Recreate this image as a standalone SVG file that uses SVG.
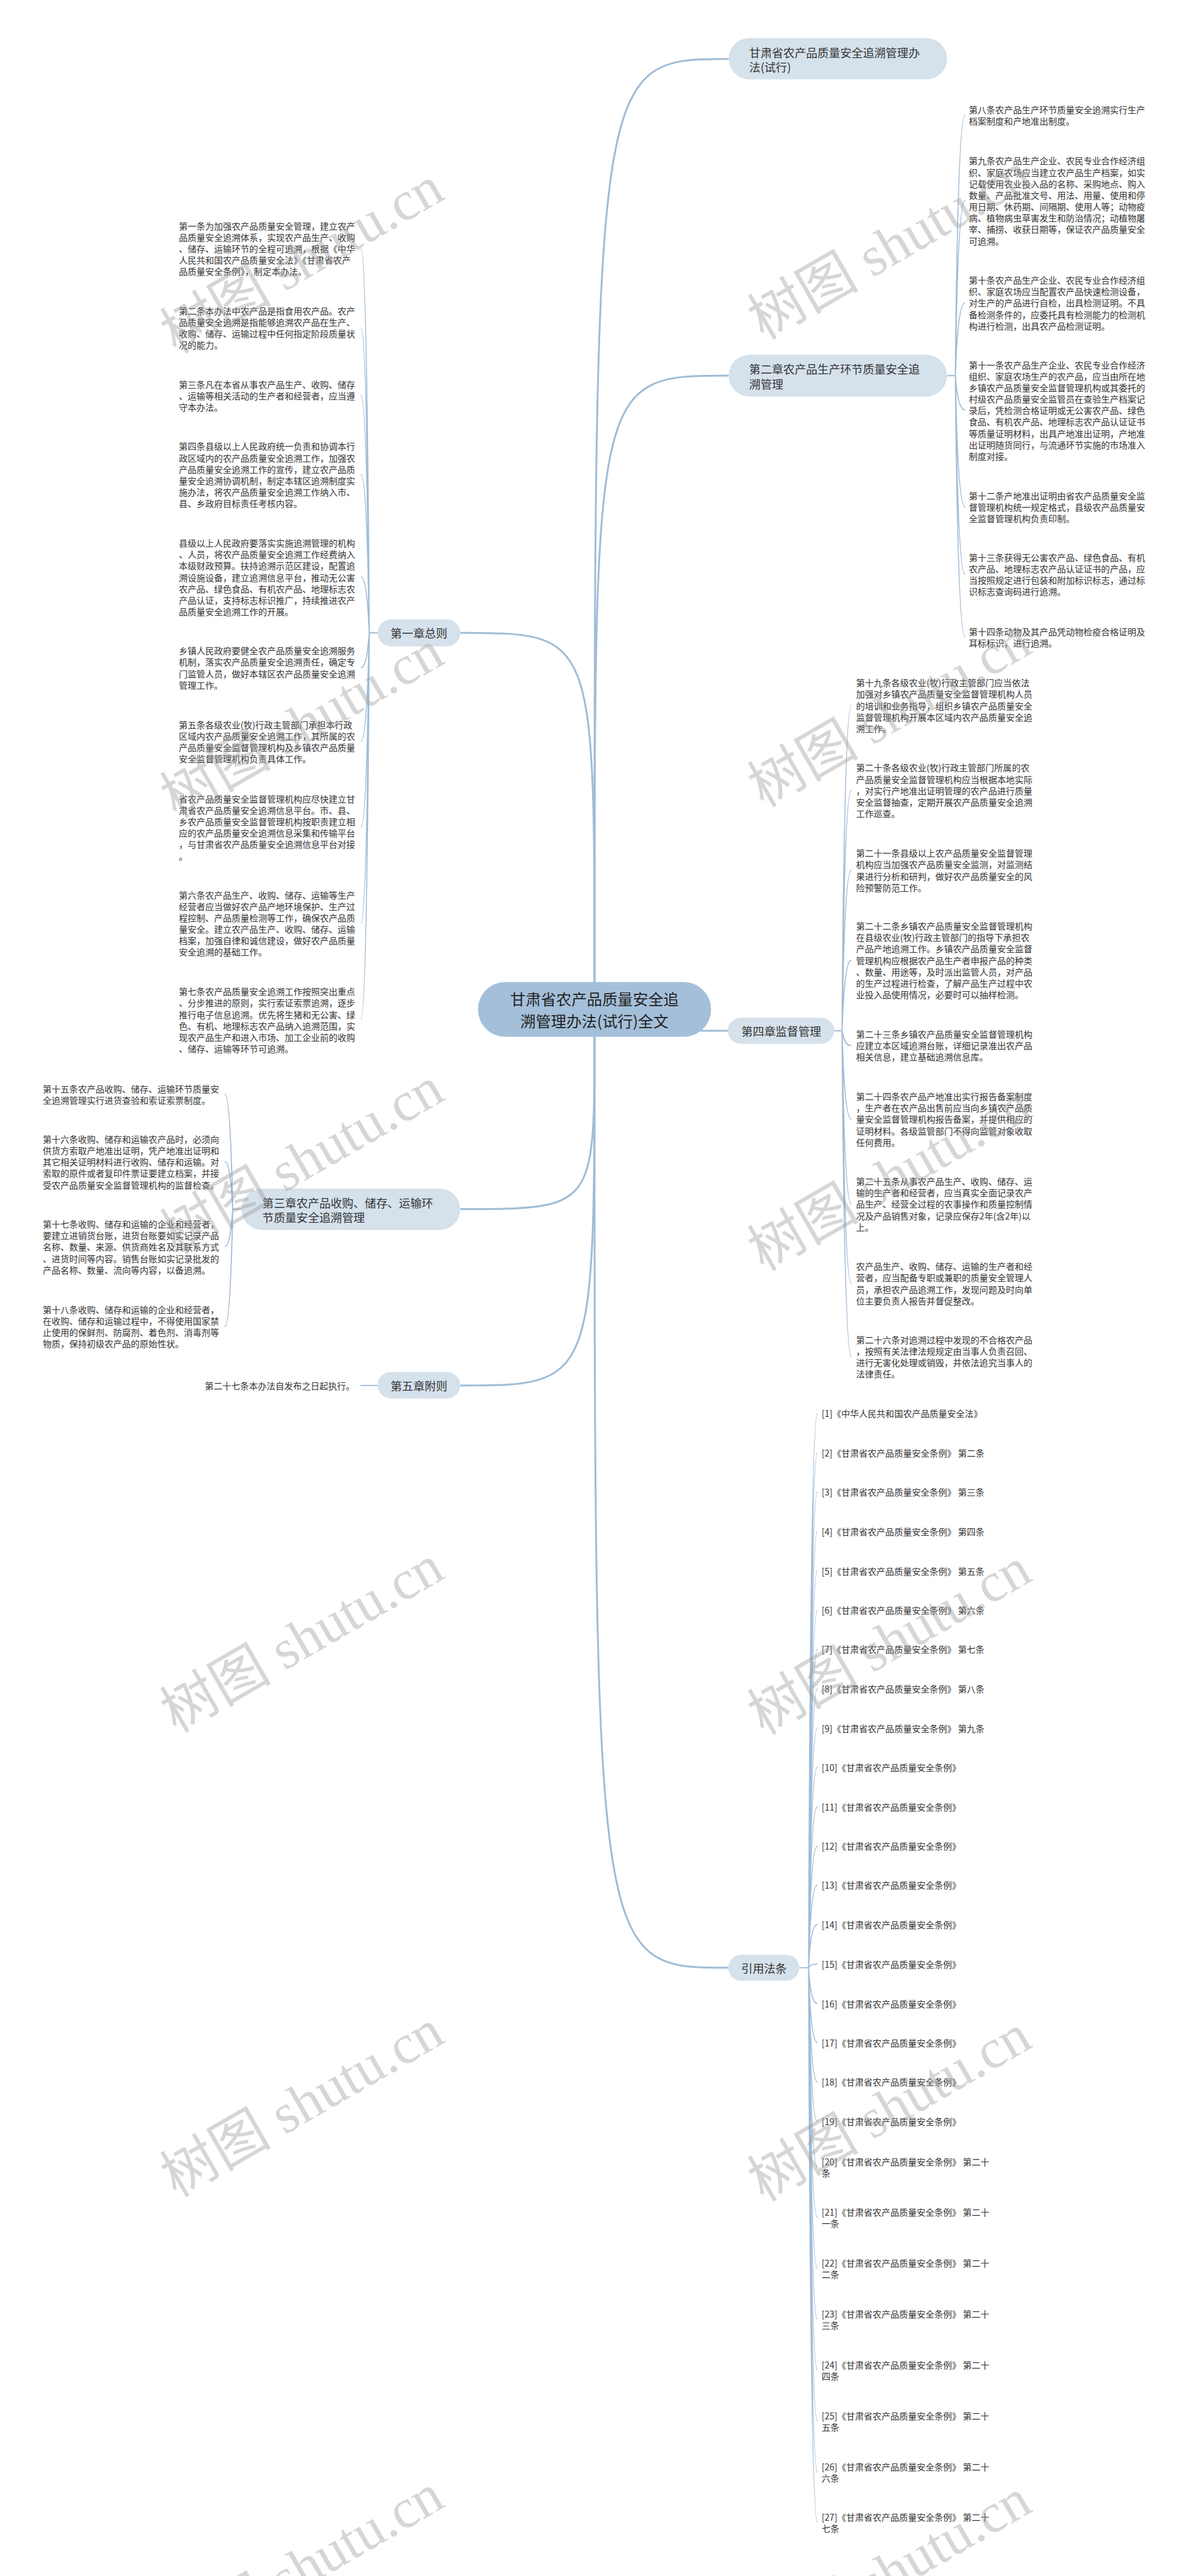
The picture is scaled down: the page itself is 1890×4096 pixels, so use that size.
<svg xmlns="http://www.w3.org/2000/svg" width="1890" height="4096" viewBox="0 0 1890 4096">
<style>
text{font-family:"Noto Sans CJK SC","Noto Sans",sans-serif;dominant-baseline:central}
.lf{font-size:19px;fill:#333}
.ch{font-size:24.5px;fill:#333}
.ct{font-size:33px;fill:#222}
.cn{fill:#d5e1eb}
.cm{fill:#a4bfd9}
.lk{fill:none;stroke:#a0bcd6;stroke-width:2.5}
.mn{fill:none;stroke:#a0bcd6;stroke-width:4}
.wm{font-family:"Liberation Serif","Noto Sans CJK SC",serif;font-size:120px;fill:#9a9a9a;opacity:.4;text-anchor:middle}
</style>
<rect width="1890" height="4096" fill="#fff"/>
<g transform="scale(0.73828125)">
<g id="connectors">
<path class="mn" d="M1280 2115 C1280 127 1280 127 1569 127"/>
<path class="mn" d="M1280 2115 C1280 809 1280 809 1569 809"/>
<path class="mn" d="M1280 2115 C1280 1363 1280 1363 991 1363"/>
<path class="mn" d="M1508 2220 H1567"/>
<path class="mn" d="M1280 2233 C1280 2604 1280 2604 991 2604"/>
<path class="mn" d="M1280 2233 C1280 2984 1280 2984 991 2984"/>
<path class="mn" d="M1280 2233 C1280 4238 1280 4238 1568 4238"/>
<path class="lk" d="M2039 809 H2057 Q2062 248 2078 248 M2057 809 Q2062 432 2078 432 M2057 809 Q2062 652 2078 652 M2057 809 Q2062 883 2078 883 M2057 809 Q2062 1092 2078 1092 M2057 809 Q2062 1237 2078 1237 M2057 809 Q2062 1372 2078 1372"/>
<path class="lk" d="M813 1363 H795 Q790 535 777 535 M795 1363 Q790 706 777 706 M795 1363 Q790 852 777 852 M795 1363 Q790 1022 777 1022 M795 1363 Q790 1243 777 1243 M795 1363 Q790 1438 777 1438 M795 1363 Q790 1597 777 1597 M795 1363 Q790 1781 777 1781 M795 1363 Q790 1988 777 1988 M795 1363 Q790 2196 777 2196"/>
<path class="lk" d="M520 2604 H501 Q496 2356 484 2356 M501 2604 Q496 2502 484 2502 M501 2604 Q496 2685 484 2685 M501 2604 Q496 2857 484 2857"/>
<path class="lk" d="M813 2984 H776"/>
<path class="lk" d="M1796 2220 H1813 Q1818 1519 1833 1519 M1813 2220 Q1818 1702 1833 1702 M1813 2220 Q1818 1874 1833 1874 M1813 2220 Q1818 2068 1833 2068 M1813 2220 Q1818 2252 1833 2252 M1813 2220 Q1818 2410 1833 2410 M1813 2220 Q1818 2593 1833 2593 M1813 2220 Q1818 2764 1833 2764 M1813 2220 Q1818 2922 1833 2922"/>
<path class="lk" d="M1721 4238 H1741 Q1745 3044 1760 3044 M1741 4238 Q1745 3129 1760 3129 M1741 4238 Q1745 3213 1760 3213 M1741 4238 Q1745 3298 1760 3298 M1741 4238 Q1745 3383 1760 3383 M1741 4238 Q1745 3468 1760 3468 M1741 4238 Q1745 3552 1760 3552 M1741 4238 Q1745 3637 1760 3637 M1741 4238 Q1745 3722 1760 3722 M1741 4238 Q1745 3806 1760 3806 M1741 4238 Q1745 3891 1760 3891 M1741 4238 Q1745 3976 1760 3976 M1741 4238 Q1745 4060 1760 4060 M1741 4238 Q1745 4145 1760 4145 M1741 4238 Q1745 4230 1760 4230 M1741 4238 Q1745 4315 1760 4315 M1741 4238 Q1745 4399 1760 4399 M1741 4238 Q1745 4484 1760 4484 M1741 4238 Q1745 4569 1760 4569 M1741 4238 Q1745 4667 1760 4667 M1741 4238 Q1745 4776 1760 4776 M1741 4238 Q1745 4886 1760 4886 M1741 4238 Q1745 4995 1760 4995 M1741 4238 Q1745 5105 1760 5105 M1741 4238 Q1745 5214 1760 5214 M1741 4238 Q1745 5324 1760 5324 M1741 4238 Q1745 5433 1760 5433"/>
</g>

<g id="center">
<rect class="cm" x="1029" y="2115" width="502" height="118" rx="59"/>
<text class="ct" text-anchor="middle"><tspan x="1280" y="2150">甘肃省农产品质量安全追</tspan><tspan x="1280" y="2197">溯管理办法(试行)全文</tspan></text>
</g>

<g id="node-title">
<rect class="cn" x="1569" y="82" width="470" height="89" rx="44.5"/>
<text class="ch"><tspan x="1613" y="112">甘肃省农产品质量安全追溯管理办</tspan><tspan x="1613" y="144">法(试行)</tspan></text>
</g>

<g id="node-ch2">
<rect class="cn" x="1569" y="764" width="470" height="90" rx="45"/>
<text class="ch"><tspan x="1613" y="794">第二章农产品生产环节质量安全追</tspan><tspan x="1613" y="826">溯管理</tspan></text>
</g>
<g id="ch2-leaves">
<text class="lf"><tspan x="2086" y="236">第八条农产品生产环节质量安全追溯实行生产</tspan><tspan x="2086" dy="24.6">档案制度和产地准出制度。</tspan></text>
<text class="lf"><tspan x="2086" y="346">第九条农产品生产企业、农民专业合作经济组</tspan><tspan x="2086" dy="24.6">织、家庭农场应当建立农产品生产档案，如实</tspan><tspan x="2086" dy="24.6">记载使用农业投入品的名称、采购地点、购入</tspan><tspan x="2086" dy="24.6">数量、产品批准文号、用法、用量、使用和停</tspan><tspan x="2086" dy="24.6">用日期、休药期、间隔期、使用人等；动物疫</tspan><tspan x="2086" dy="24.6">病、植物病虫草害发生和防治情况；动植物屠</tspan><tspan x="2086" dy="24.6">宰、捕捞、收获日期等，保证农产品质量安全</tspan><tspan x="2086" dy="24.6">可追溯。</tspan></text>
<text class="lf"><tspan x="2086" y="603">第十条农产品生产企业、农民专业合作经济组</tspan><tspan x="2086" dy="24.6">织、家庭农场应当配置农产品快速检测设备，</tspan><tspan x="2086" dy="24.6">对生产的产品进行自检，出具检测证明。不具</tspan><tspan x="2086" dy="24.6">备检测条件的，应委托具有检测能力的检测机</tspan><tspan x="2086" dy="24.6">构进行检测，出具农产品检测证明。</tspan></text>
<text class="lf"><tspan x="2086" y="785">第十一条农产品生产企业、农民专业合作经济</tspan><tspan x="2086" dy="24.6">组织、家庭农场生产的农产品，应当由所在地</tspan><tspan x="2086" dy="24.6">乡镇农产品质量安全监督管理机构或其委托的</tspan><tspan x="2086" dy="24.6">村级农产品质量安全监管员在查验生产档案记</tspan><tspan x="2086" dy="24.6">录后，凭检测合格证明或无公害农产品、绿色</tspan><tspan x="2086" dy="24.6">食品、有机农产品、地理标志农产品认证证书</tspan><tspan x="2086" dy="24.6">等质量证明材料，出具产地准出证明，产地准</tspan><tspan x="2086" dy="24.6">出证明随货同行，与流通环节实施的市场准入</tspan><tspan x="2086" dy="24.6">制度对接。</tspan></text>
<text class="lf"><tspan x="2086" y="1067">第十二条产地准出证明由省农产品质量安全监</tspan><tspan x="2086" dy="24.6">督管理机构统一规定格式，县级农产品质量安</tspan><tspan x="2086" dy="24.6">全监督管理机构负责印制。</tspan></text>
<text class="lf"><tspan x="2086" y="1200">第十三条获得无公害农产品、绿色食品、有机</tspan><tspan x="2086" dy="24.6">农产品、地理标志农产品认证证书的产品，应</tspan><tspan x="2086" dy="24.6">当按照规定进行包装和附加标识标志，通过标</tspan><tspan x="2086" dy="24.6">识标志查询码进行追溯。</tspan></text>
<text class="lf"><tspan x="2086" y="1360">第十四条动物及其产品凭动物检疫合格证明及</tspan><tspan x="2086" dy="24.6">耳标标识，进行追溯。</tspan></text>
</g>

<g id="node-ch1">
<rect class="cn" x="813" y="1334" width="178" height="58" rx="29"/>
<text class="ch" x="902" y="1363" text-anchor="middle">第一章总则</text>
</g>
<g id="ch1-leaves">
<text class="lf"><tspan x="385" y="486">第一条为加强农产品质量安全管理，建立农产</tspan><tspan x="385" dy="24.6">品质量安全追溯体系，实现农产品生产、收购</tspan><tspan x="385" dy="24.6">、储存、运输环节的全程可追溯，根据《中华</tspan><tspan x="385" dy="24.6">人民共和国农产品质量安全法》《甘肃省农产</tspan><tspan x="385" dy="24.6">品质量安全条例》，制定本办法。</tspan></text>
<text class="lf"><tspan x="385" y="669">第二条本办法中农产品是指食用农产品。农产</tspan><tspan x="385" dy="24.6">品质量安全追溯是指能够追溯农产品在生产、</tspan><tspan x="385" dy="24.6">收购、储存、运输过程中任何指定阶段质量状</tspan><tspan x="385" dy="24.6">况的能力。</tspan></text>
<text class="lf"><tspan x="385" y="827">第三条凡在本省从事农产品生产、收购、储存</tspan><tspan x="385" dy="24.6">、运输等相关活动的生产者和经营者，应当遵</tspan><tspan x="385" dy="24.6">守本办法。</tspan></text>
<text class="lf"><tspan x="385" y="961">第四条县级以上人民政府统一负责和协调本行</tspan><tspan x="385" dy="24.6">政区域内的农产品质量安全追溯工作，加强农</tspan><tspan x="385" dy="24.6">产品质量安全追溯工作的宣传，建立农产品质</tspan><tspan x="385" dy="24.6">量安全追溯协调机制，制定本辖区追溯制度实</tspan><tspan x="385" dy="24.6">施办法，将农产品质量安全追溯工作纳入市、</tspan><tspan x="385" dy="24.6">县、乡政府目标责任考核内容。</tspan></text>
<text class="lf"><tspan x="385" y="1169">县级以上人民政府要落实实施追溯管理的机构</tspan><tspan x="385" dy="24.6">、人员，将农产品质量安全追溯工作经费纳入</tspan><tspan x="385" dy="24.6">本级财政预算。扶持追溯示范区建设，配置追</tspan><tspan x="385" dy="24.6">溯设施设备，建立追溯信息平台，推动无公害</tspan><tspan x="385" dy="24.6">农产品、绿色食品、有机农产品、地理标志农</tspan><tspan x="385" dy="24.6">产品认证，支持标志标识推广，持续推进农产</tspan><tspan x="385" dy="24.6">品质量安全追溯工作的开展。</tspan></text>
<text class="lf"><tspan x="385" y="1401">乡镇人民政府要健全农产品质量安全追溯服务</tspan><tspan x="385" dy="24.6">机制，落实农产品质量安全追溯责任，确定专</tspan><tspan x="385" dy="24.6">门监管人员，做好本辖区农产品质量安全追溯</tspan><tspan x="385" dy="24.6">管理工作。</tspan></text>
<text class="lf"><tspan x="385" y="1560">第五条各级农业(牧)行政主管部门承担本行政</tspan><tspan x="385" dy="24.6">区域内农产品质量安全追溯工作，其所属的农</tspan><tspan x="385" dy="24.6">产品质量安全监督管理机构及乡镇农产品质量</tspan><tspan x="385" dy="24.6">安全监督管理机构负责具体工作。</tspan></text>
<text class="lf"><tspan x="385" y="1720">省农产品质量安全监督管理机构应尽快建立甘</tspan><tspan x="385" dy="24.6">肃省农产品质量安全追溯信息平台。市、县、</tspan><tspan x="385" dy="24.6">乡农产品质量安全监督管理机构按职责建立相</tspan><tspan x="385" dy="24.6">应的农产品质量安全追溯信息采集和传输平台</tspan><tspan x="385" dy="24.6">，与甘肃省农产品质量安全追溯信息平台对接</tspan><tspan x="385" dy="24.6">。</tspan></text>
<text class="lf"><tspan x="385" y="1927">第六条农产品生产、收购、储存、运输等生产</tspan><tspan x="385" dy="24.6">经营者应当做好农产品产地环境保护、生产过</tspan><tspan x="385" dy="24.6">程控制、产品质量检测等工作，确保农产品质</tspan><tspan x="385" dy="24.6">量安全。建立农产品生产、收购、储存、运输</tspan><tspan x="385" dy="24.6">档案，加强自律和诚信建设，做好农产品质量</tspan><tspan x="385" dy="24.6">安全追溯的基础工作。</tspan></text>
<text class="lf"><tspan x="385" y="2135">第七条农产品质量安全追溯工作按照突出重点</tspan><tspan x="385" dy="24.6">、分步推进的原则，实行索证索票追溯，逐步</tspan><tspan x="385" dy="24.6">推行电子信息追溯。优先将生猪和无公害、绿</tspan><tspan x="385" dy="24.6">色、有机、地理标志农产品纳入追溯范围，实</tspan><tspan x="385" dy="24.6">现农产品生产和进入市场、加工企业前的收购</tspan><tspan x="385" dy="24.6">、储存、运输等环节可追溯。</tspan></text>
</g>

<g id="node-ch3">
<rect class="cn" x="520" y="2560" width="471" height="89" rx="44.5"/>
<text class="ch"><tspan x="565" y="2590">第三章农产品收购、储存、运输环</tspan><tspan x="565" y="2621">节质量安全追溯管理</tspan></text>
</g>
<g id="ch3-leaves">
<text class="lf"><tspan x="92" y="2344">第十五条农产品收购、储存、运输环节质量安</tspan><tspan x="92" dy="24.6">全追溯管理实行进货查验和索证索票制度。</tspan></text>
<text class="lf"><tspan x="92" y="2453">第十六条收购、储存和运输农产品时，必须向</tspan><tspan x="92" dy="24.6">供货方索取产地准出证明，凭产地准出证明和</tspan><tspan x="92" dy="24.6">其它相关证明材料进行收购、储存和运输。对</tspan><tspan x="92" dy="24.6">索取的原件或者复印件票证要建立档案，并接</tspan><tspan x="92" dy="24.6">受农产品质量安全监督管理机构的监督检查。</tspan></text>
<text class="lf"><tspan x="92" y="2636">第十七条收购、储存和运输的企业和经营者，</tspan><tspan x="92" dy="24.6">要建立进销货台账，进货台账要如实记录产品</tspan><tspan x="92" dy="24.6">名称、数量、来源、供货商姓名及其联系方式</tspan><tspan x="92" dy="24.6">、进货时间等内容。销售台账如实记录批发的</tspan><tspan x="92" dy="24.6">产品名称、数量、流向等内容，以备追溯。</tspan></text>
<text class="lf"><tspan x="92" y="2820">第十八条收购、储存和运输的企业和经营者，</tspan><tspan x="92" dy="24.6">在收购、储存和运输过程中，不得使用国家禁</tspan><tspan x="92" dy="24.6">止使用的保鲜剂、防腐剂、着色剂、消毒剂等</tspan><tspan x="92" dy="24.6">物质，保持初级农产品的原始性状。</tspan></text>
</g>

<g id="node-ch5">
<rect class="cn" x="813" y="2955" width="178" height="57" rx="28.5"/>
<text class="ch" x="902" y="2984" text-anchor="middle">第五章附则</text>
</g>
<g id="ch5-leaves">
<text class="lf" x="441" y="2984">第二十七条本办法自发布之日起执行。</text>
</g>

<g id="node-ch4">
<rect class="cn" x="1567" y="2192" width="229" height="56" rx="28"/>
<text class="ch" x="1682" y="2220" text-anchor="middle">第四章监督管理</text>
</g>
<g id="ch4-leaves">
<text class="lf"><tspan x="1843" y="1470">第十九条各级农业(牧)行政主管部门应当依法</tspan><tspan x="1843" dy="24.6">加强对乡镇农产品质量安全监督管理机构人员</tspan><tspan x="1843" dy="24.6">的培训和业务指导，组织乡镇农产品质量安全</tspan><tspan x="1843" dy="24.6">监督管理机构开展本区域内农产品质量安全追</tspan><tspan x="1843" dy="24.6">溯工作。</tspan></text>
<text class="lf"><tspan x="1843" y="1653">第二十条各级农业(牧)行政主管部门所属的农</tspan><tspan x="1843" dy="24.6">产品质量安全监督管理机构应当根据本地实际</tspan><tspan x="1843" dy="24.6">，对实行产地准出证明管理的农产品进行质量</tspan><tspan x="1843" dy="24.6">安全监督抽查，定期开展农产品质量安全追溯</tspan><tspan x="1843" dy="24.6">工作巡查。</tspan></text>
<text class="lf"><tspan x="1843" y="1837">第二十一条县级以上农产品质量安全监督管理</tspan><tspan x="1843" dy="24.6">机构应当加强农产品质量安全监测，对监测结</tspan><tspan x="1843" dy="24.6">果进行分析和研判，做好农产品质量安全的风</tspan><tspan x="1843" dy="24.6">险预警防范工作。</tspan></text>
<text class="lf"><tspan x="1843" y="1994">第二十二条乡镇农产品质量安全监督管理机构</tspan><tspan x="1843" dy="24.6">在县级农业(牧)行政主管部门的指导下承担农</tspan><tspan x="1843" dy="24.6">产品产地追溯工作。乡镇农产品质量安全监督</tspan><tspan x="1843" dy="24.6">管理机构应根据农产品生产者申报产品的种类</tspan><tspan x="1843" dy="24.6">、数量、用途等，及时派出监管人员，对产品</tspan><tspan x="1843" dy="24.6">的生产过程进行检查，了解产品生产过程中农</tspan><tspan x="1843" dy="24.6">业投入品使用情况，必要时可以抽样检测。</tspan></text>
<text class="lf"><tspan x="1843" y="2227">第二十三条乡镇农产品质量安全监督管理机构</tspan><tspan x="1843" dy="24.6">应建立本区域追溯台账，详细记录准出农产品</tspan><tspan x="1843" dy="24.6">相关信息，建立基础追溯信息库。</tspan></text>
<text class="lf"><tspan x="1843" y="2361">第二十四条农产品产地准出实行报告备案制度</tspan><tspan x="1843" dy="24.6">，生产者在农产品出售前应当向乡镇农产品质</tspan><tspan x="1843" dy="24.6">量安全监督管理机构报告备案，并提供相应的</tspan><tspan x="1843" dy="24.6">证明材料。各级监管部门不得向监管对象收取</tspan><tspan x="1843" dy="24.6">任何费用。</tspan></text>
<text class="lf"><tspan x="1843" y="2544">第二十五条从事农产品生产、收购、储存、运</tspan><tspan x="1843" dy="24.6">输的生产者和经营者，应当真实全面记录农产</tspan><tspan x="1843" dy="24.6">品生产、经营全过程的农事操作和质量控制情</tspan><tspan x="1843" dy="24.6">况及产品销售对象，记录应保存2年(含2年)以</tspan><tspan x="1843" dy="24.6">上。</tspan></text>
<text class="lf"><tspan x="1843" y="2727">农产品生产、收购、储存、运输的生产者和经</tspan><tspan x="1843" dy="24.6">营者，应当配备专职或兼职的质量安全管理人</tspan><tspan x="1843" dy="24.6">员，承担农产品追溯工作，发现问题及时向单</tspan><tspan x="1843" dy="24.6">位主要负责人报告并督促整改。</tspan></text>
<text class="lf"><tspan x="1843" y="2885">第二十六条对追溯过程中发现的不合格农产品</tspan><tspan x="1843" dy="24.6">，按照有关法律法规规定由当事人负责召回、</tspan><tspan x="1843" dy="24.6">进行无害化处理或销毁，并依法追究当事人的</tspan><tspan x="1843" dy="24.6">法律责任。</tspan></text>
</g>

<g id="node-refs">
<rect class="cn" x="1568" y="4210" width="153" height="56" rx="28"/>
<text class="ch" x="1645" y="4238" text-anchor="middle">引用法条</text>
</g>
<g id="refs-leaves">
<text class="lf" x="1769" y="3044">[1]《中华人民共和国农产品质量安全法》</text>
<text class="lf" x="1769" y="3129">[2]《甘肃省农产品质量安全条例》 第二条</text>
<text class="lf" x="1769" y="3213">[3]《甘肃省农产品质量安全条例》 第三条</text>
<text class="lf" x="1769" y="3298">[4]《甘肃省农产品质量安全条例》 第四条</text>
<text class="lf" x="1769" y="3383">[5]《甘肃省农产品质量安全条例》 第五条</text>
<text class="lf" x="1769" y="3468">[6]《甘肃省农产品质量安全条例》 第六条</text>
<text class="lf" x="1769" y="3552">[7]《甘肃省农产品质量安全条例》 第七条</text>
<text class="lf" x="1769" y="3637">[8]《甘肃省农产品质量安全条例》 第八条</text>
<text class="lf" x="1769" y="3722">[9]《甘肃省农产品质量安全条例》 第九条</text>
<text class="lf" x="1769" y="3806">[10]《甘肃省农产品质量安全条例》</text>
<text class="lf" x="1769" y="3891">[11]《甘肃省农产品质量安全条例》</text>
<text class="lf" x="1769" y="3976">[12]《甘肃省农产品质量安全条例》</text>
<text class="lf" x="1769" y="4060">[13]《甘肃省农产品质量安全条例》</text>
<text class="lf" x="1769" y="4145">[14]《甘肃省农产品质量安全条例》</text>
<text class="lf" x="1769" y="4230">[15]《甘肃省农产品质量安全条例》</text>
<text class="lf" x="1769" y="4315">[16]《甘肃省农产品质量安全条例》</text>
<text class="lf" x="1769" y="4399">[17]《甘肃省农产品质量安全条例》</text>
<text class="lf" x="1769" y="4484">[18]《甘肃省农产品质量安全条例》</text>
<text class="lf" x="1769" y="4569">[19]《甘肃省农产品质量安全条例》</text>
<text class="lf"><tspan x="1769" y="4655">[20]《甘肃省农产品质量安全条例》 第二十</tspan><tspan x="1769" dy="24.5">条</tspan></text>
<text class="lf"><tspan x="1769" y="4764">[21]《甘肃省农产品质量安全条例》 第二十</tspan><tspan x="1769" dy="24.5">一条</tspan></text>
<text class="lf"><tspan x="1769" y="4874">[22]《甘肃省农产品质量安全条例》 第二十</tspan><tspan x="1769" dy="24.5">二条</tspan></text>
<text class="lf"><tspan x="1769" y="4983">[23]《甘肃省农产品质量安全条例》 第二十</tspan><tspan x="1769" dy="24.5">三条</tspan></text>
<text class="lf"><tspan x="1769" y="5093">[24]《甘肃省农产品质量安全条例》 第二十</tspan><tspan x="1769" dy="24.5">四条</tspan></text>
<text class="lf"><tspan x="1769" y="5202">[25]《甘肃省农产品质量安全条例》 第二十</tspan><tspan x="1769" dy="24.5">五条</tspan></text>
<text class="lf"><tspan x="1769" y="5312">[26]《甘肃省农产品质量安全条例》 第二十</tspan><tspan x="1769" dy="24.5">六条</tspan></text>
<text class="lf"><tspan x="1769" y="5421">[27]《甘肃省农产品质量安全条例》 第二十</tspan><tspan x="1769" dy="24.5">七条</tspan></text>
</g>

<g id="watermarks">
<text class="wm" transform="translate(650 560) rotate(-30)">树图 shutu.cn</text>
<text class="wm" transform="translate(1915 530) rotate(-30)">树图 shutu.cn</text>
<text class="wm" transform="translate(650 1560) rotate(-30)">树图 shutu.cn</text>
<text class="wm" transform="translate(1915 1537) rotate(-30)">树图 shutu.cn</text>
<text class="wm" transform="translate(650 2500) rotate(-30)">树图 shutu.cn</text>
<text class="wm" transform="translate(1915 2536) rotate(-30)">树图 shutu.cn</text>
<text class="wm" transform="translate(650 3530) rotate(-30)">树图 shutu.cn</text>
<text class="wm" transform="translate(1915 3535) rotate(-30)">树图 shutu.cn</text>
<text class="wm" transform="translate(650 4530) rotate(-30)">树图 shutu.cn</text>
<text class="wm" transform="translate(1915 4540) rotate(-30)">树图 shutu.cn</text>
<text class="wm" transform="translate(650 5530) rotate(-30)">树图 shutu.cn</text>
<text class="wm" transform="translate(1915 5540) rotate(-30)">树图 shutu.cn</text>
</g>
</g>
</svg>
